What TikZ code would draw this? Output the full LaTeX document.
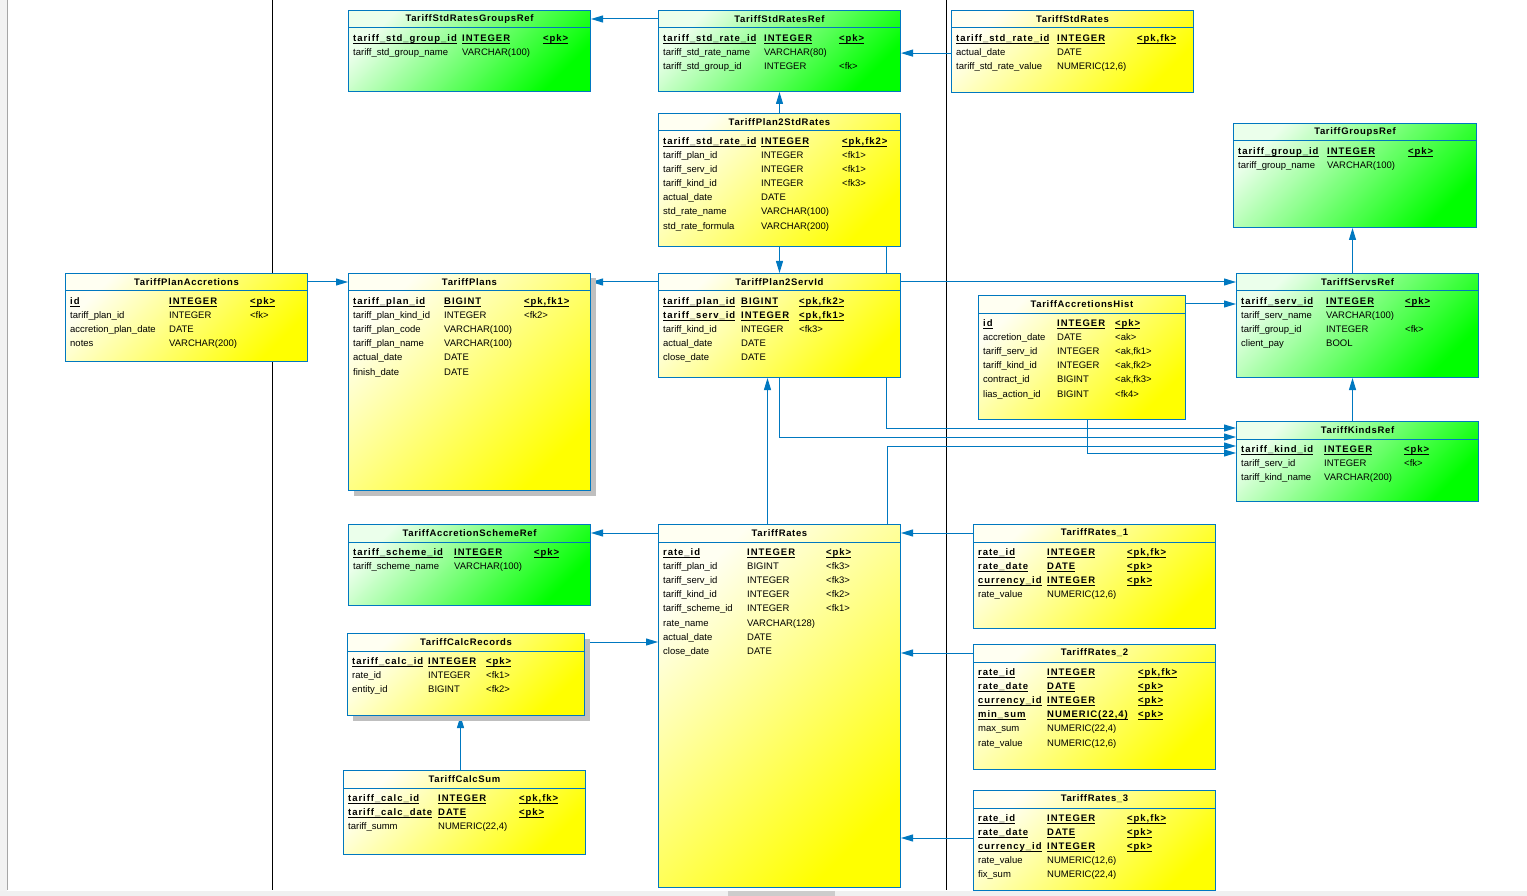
\documentclass[tikz,border=0pt]{standalone}
\usepackage{fontspec}
\setmainfont{Liberation Sans}
\newfontfamily\erbold{Liberation Sans}[LetterSpace=10]
\newfontfamily\ertitlefont{Liberation Sans}[LetterSpace=7]
\usepackage{tikz}
\usetikzlibrary{arrows.meta,calc,backgrounds,shadows}
\definecolor{erblue}{RGB}{0,120,192}

\newcommand{\ertable}[9]{%
  \node[#6, minimum width=#4pt, minimum height=#5pt, anchor=north west] (#1) at (#2,#3) {};
  \node[ertitle] (#1-t) at ($(#1.north)+(0,9)$) {#7};
  \draw[erline] ($(#1.north west)+(0,18)$) -- ($(#1.north east)+(0,18)$);
  \gdef\curtab{#1}\gdef\colB{#8}\gdef\colC{#9}}
\newcommand{\erow}[4]{%
  \node[ercell] (\curtab-r#1) at ($(\curtab.north west)+(5,{31.5+(#1-1)*14.1})$) {#2};
  \node[ercell] at ($(\curtab.north west)+(\colB,{31.5+(#1-1)*14.1})$) {#3};
  \node[ercell] at ($(\curtab.north west)+(\colC,{31.5+(#1-1)*14.1})$) {#4};}
\newcommand{\pk}[1]{\underline{\smash{\erbold\bfseries #1}}}
\newcommand{\pkrow}[4]{\erow{#1}{\pk{#2}}{\pk{#3}}{\pk{#4}}}

\begin{document}
\begin{tikzpicture}[x=1pt,y=-1pt,>={Triangle[length=12pt,width=7pt]},
   erline/.style={draw=erblue,line width=1pt},
   fk/.style={->,draw=erblue,line width=1pt},
   yelbox/.style={draw=erblue,line width=1pt,top color=yellow!5,bottom color=yellow,shading angle=45},
   grnbox/.style={draw=erblue,line width=1pt,top color=green!8,bottom color=green,shading angle=45},
   ershadow/.style={general shadow={fill=black!25,shadow xshift=5pt,shadow yshift=-5pt}},
   ertitle/.style={inner sep=0pt,font=\ertitlefont\bfseries\fontsize{9.5}{11}\selectfont},
   ercell/.style={anchor=base west,inner sep=0pt,font=\fontsize{9.5}{11}\selectfont}]
  \useasboundingbox (0,0) rectangle (1527,896);

  \ertable{sgr}{348}{10}{242}{81}{grnbox}{TariffStdRatesGroupsRef}{114}{195}
  \pkrow{1}{tariff\_std\_group\_id}{INTEGER}{<pk>}
  \erow{2}{tariff\_std\_group\_name}{VARCHAR(100)}{}

  \ertable{srr}{658}{10}{242}{81}{grnbox}{TariffStdRatesRef}{106}{181}
  \pkrow{1}{tariff\_std\_rate\_id}{INTEGER}{<pk>}
  \erow{2}{tariff\_std\_rate\_name}{VARCHAR(80)}{}
  \erow{3}{tariff\_std\_group\_id}{INTEGER}{<fk>}

  \ertable{sr}{951}{10}{242}{82}{yelbox}{TariffStdRates}{106}{186}
  \pkrow{1}{tariff\_std\_rate\_id}{INTEGER}{<pk,fk>}
  \erow{2}{actual\_date}{DATE}{}
  \erow{3}{tariff\_std\_rate\_value}{NUMERIC(12,6)}{}

  \ertable{p2s}{658}{113}{242}{133}{yelbox}{TariffPlan2StdRates}{103}{184}
  \pkrow{1}{tariff\_std\_rate\_id}{INTEGER}{<pk,fk2>}
  \erow{2}{tariff\_plan\_id}{INTEGER}{<fk1>}
  \erow{3}{tariff\_serv\_id}{INTEGER}{<fk1>}
  \erow{4}{tariff\_kind\_id}{INTEGER}{<fk3>}
  \erow{5}{actual\_date}{DATE}{}
  \erow{6}{std\_rate\_name}{VARCHAR(100)}{}
  \erow{7}{std\_rate\_formula}{VARCHAR(200)}{}

  \ertable{grp}{1233}{123}{243}{104}{grnbox}{TariffGroupsRef}{94}{175}
  \pkrow{1}{tariff\_group\_id}{INTEGER}{<pk>}
  \erow{2}{tariff\_group\_name}{VARCHAR(100)}{}

  \ertable{pacc}{65}{273}{242}{88}{yelbox}{TariffPlanAccretions}{104}{185}
  \pkrow{1}{id}{INTEGER}{<pk>}
  \erow{2}{tariff\_plan\_id}{INTEGER}{<fk>}
  \erow{3}{accretion\_plan\_date}{DATE}{}
  \erow{4}{notes}{VARCHAR(200)}{}

  \ertable{plan}{348}{273}{242}{217}{yelbox,ershadow}{TariffPlans}{96}{176}
  \pkrow{1}{tariff\_plan\_id}{BIGINT}{<pk,fk1>}
  \erow{2}{tariff\_plan\_kind\_id}{INTEGER}{<fk2>}
  \erow{3}{tariff\_plan\_code}{VARCHAR(100)}{}
  \erow{4}{tariff\_plan\_name}{VARCHAR(100)}{}
  \erow{5}{actual\_date}{DATE}{}
  \erow{6}{finish\_date}{DATE}{}

  \ertable{p2sv}{658}{273}{242}{104}{yelbox}{TariffPlan2ServId}{83}{141}
  \pkrow{1}{tariff\_plan\_id}{BIGINT}{<pk,fk2>}
  \pkrow{2}{tariff\_serv\_id}{INTEGER}{<pk,fk1>}
  \erow{3}{tariff\_kind\_id}{INTEGER}{<fk3>}
  \erow{4}{actual\_date}{DATE}{}
  \erow{5}{close\_date}{DATE}{}

  \ertable{srv}{1236}{273}{242}{104}{grnbox}{TariffServsRef}{90}{169}
  \pkrow{1}{tariff\_serv\_id}{INTEGER}{<pk>}
  \erow{2}{tariff\_serv\_name}{VARCHAR(100)}{}
  \erow{3}{tariff\_group\_id}{INTEGER}{<fk>}
  \erow{4}{client\_pay}{BOOL}{}

  \ertable{hist}{978}{295}{207}{124}{yelbox}{TariffAccretionsHist}{79}{137}
  \pkrow{1}{id}{INTEGER}{<pk>}
  \erow{2}{accretion\_date}{DATE}{<ak>}
  \erow{3}{tariff\_serv\_id}{INTEGER}{<ak,fk1>}
  \erow{4}{tariff\_kind\_id}{INTEGER}{<ak,fk2>}
  \erow{5}{contract\_id}{BIGINT}{<ak,fk3>}
  \erow{6}{lias\_action\_id}{BIGINT}{<fk4>}

  \ertable{knd}{1236}{421}{242}{80}{grnbox}{TariffKindsRef}{88}{168}
  \pkrow{1}{tariff\_kind\_id}{INTEGER}{<pk>}
  \erow{2}{tariff\_serv\_id}{INTEGER}{<fk>}
  \erow{3}{tariff\_kind\_name}{VARCHAR(200)}{}

  \ertable{sch}{348}{524}{242}{81}{grnbox}{TariffAccretionSchemeRef}{106}{186}
  \pkrow{1}{tariff\_scheme\_id}{INTEGER}{<pk>}
  \erow{2}{tariff\_scheme\_name}{VARCHAR(100)}{}

  \ertable{calc}{347}{633}{237}{82}{yelbox,ershadow}{TariffCalcRecords}{81}{139}
  \pkrow{1}{tariff\_calc\_id}{INTEGER}{<pk>}
  \erow{2}{rate\_id}{INTEGER}{<fk1>}
  \erow{3}{entity\_id}{BIGINT}{<fk2>}

  \ertable{csum}{343}{770}{242}{84}{yelbox}{TariffCalcSum}{95}{176}
  \pkrow{1}{tariff\_calc\_id}{INTEGER}{<pk,fk>}
  \pkrow{2}{tariff\_calc\_date}{DATE}{<pk>}
  \erow{3}{tariff\_summ}{NUMERIC(22,4)}{}

  \ertable{rate}{658}{524}{242}{363}{yelbox}{TariffRates}{89}{168}
  \pkrow{1}{rate\_id}{INTEGER}{<pk>}
  \erow{2}{tariff\_plan\_id}{BIGINT}{<fk3>}
  \erow{3}{tariff\_serv\_id}{INTEGER}{<fk3>}
  \erow{4}{tariff\_kind\_id}{INTEGER}{<fk2>}
  \erow{5}{tariff\_scheme\_id}{INTEGER}{<fk1>}
  \erow{6}{rate\_name}{VARCHAR(128)}{}
  \erow{7}{actual\_date}{DATE}{}
  \erow{8}{close\_date}{DATE}{}

  \ertable{r1}{973}{524}{242}{104}{yelbox}{TariffRates\_1}{74}{154}
  \pkrow{1}{rate\_id}{INTEGER}{<pk,fk>}
  \pkrow{2}{rate\_date}{DATE}{<pk>}
  \pkrow{3}{currency\_id}{INTEGER}{<pk>}
  \erow{4}{rate\_value}{NUMERIC(12,6)}{}

  \ertable{r2}{973}{644}{242}{125}{yelbox}{TariffRates\_2}{74}{165}
  \pkrow{1}{rate\_id}{INTEGER}{<pk,fk>}
  \pkrow{2}{rate\_date}{DATE}{<pk>}
  \pkrow{3}{currency\_id}{INTEGER}{<pk>}
  \pkrow{4}{min\_sum}{NUMERIC(22,4)}{<pk>}
  \erow{5}{max\_sum}{NUMERIC(22,4)}{}
  \erow{6}{rate\_value}{NUMERIC(12,6)}{}

  \ertable{r3}{973}{790}{242}{100}{yelbox}{TariffRates\_3}{74}{154}
  \pkrow{1}{rate\_id}{INTEGER}{<pk,fk>}
  \pkrow{2}{rate\_date}{DATE}{<pk>}
  \pkrow{3}{currency\_id}{INTEGER}{<pk>}
  \erow{4}{rate\_value}{NUMERIC(12,6)}{}
  \erow{5}{fix\_sum}{NUMERIC(22,4)}{}

  \coordinate (s-up) at ($(srv.north)+(-5,0)$);
  \coordinate (k-up) at ($(knd.north)+(-5,0)$);
  \coordinate (r-up) at ($(rate.north)+(-12,0)$);
  \coordinate (c-up) at ($(csum.north)+(-4,0)$);
  \coordinate (r3-in) at ($(r3.north west)+(0,48)$);

  \begin{scope}[on background layer]
    \fill[white] (0,0) rectangle (1527,896);
    \fill[black!5] (0,0) rectangle (7,896);
    \draw[black!35] (7,0) -- (7,890);
    \fill[black!6] (0,891) rectangle (1527,896);
    \fill[black!20] (728,891) rectangle (835,896);
    \draw[black,line width=1pt] (272,0) -- (272,890);
    \draw[black,line width=1pt] (946,0) -- (946,890);

    \draw[fk] (srr.west |- srr-t) -- (sgr.east |- srr-t);
    \draw[fk] (sr.west |- sr-r2) -- (srr.east |- sr-r2);
    \draw[fk] (p2s.north) -- (srr.south);
    \draw[fk] (p2s.south) -- (p2sv.north);
    \draw[fk] ($(p2s.south east)+(-15,0)$) |- ($(knd.north west)+(0,7)$);
    \draw[fk] (p2sv.east |- p2sv-t) -- (srv.west |- p2sv-t);
    \draw[fk] (p2sv.west |- plan-t) -- (plan.east |- plan-t);
    \draw[fk] (pacc.east |- pacc-t) -- (plan.west |- pacc-t);
    \draw[fk] (hist.east |- hist-t) -- (srv.west |- hist-t);
    \draw[fk] (s-up) -- (s-up |- grp.south);
    \draw[fk] (k-up) -- (k-up |- srv.south);
    \draw[fk] (p2sv.south) |- ($(knd.north west)+(0,16)$);
    \draw[fk] ($(rate.north east)+(-14,0)$) |- ($(knd.north west)+(0,25)$);
    \draw[fk] ($(hist.south)+(5,0)$) |- ($(knd.north west)+(0,32)$);
    \draw[fk] (r-up) -- (r-up |- p2sv.south);
    \draw[fk] (rate.west |- rate-t) -- (sch.east |- rate-t);
    \draw[fk] (calc.east |- calc-t) -- (rate.west |- calc-t);
    \draw[fk] (c-up) -- (c-up |- calc.south);
    \draw[fk] (r1.west |- r1-t) -- (rate.east |- r1-t);
    \draw[fk] (r2.west |- r2-t) -- (rate.east |- r2-t);
    \draw[fk] (r3-in) -- (rate.east |- r3-in);
  \end{scope}
\end{tikzpicture}
\end{document}
